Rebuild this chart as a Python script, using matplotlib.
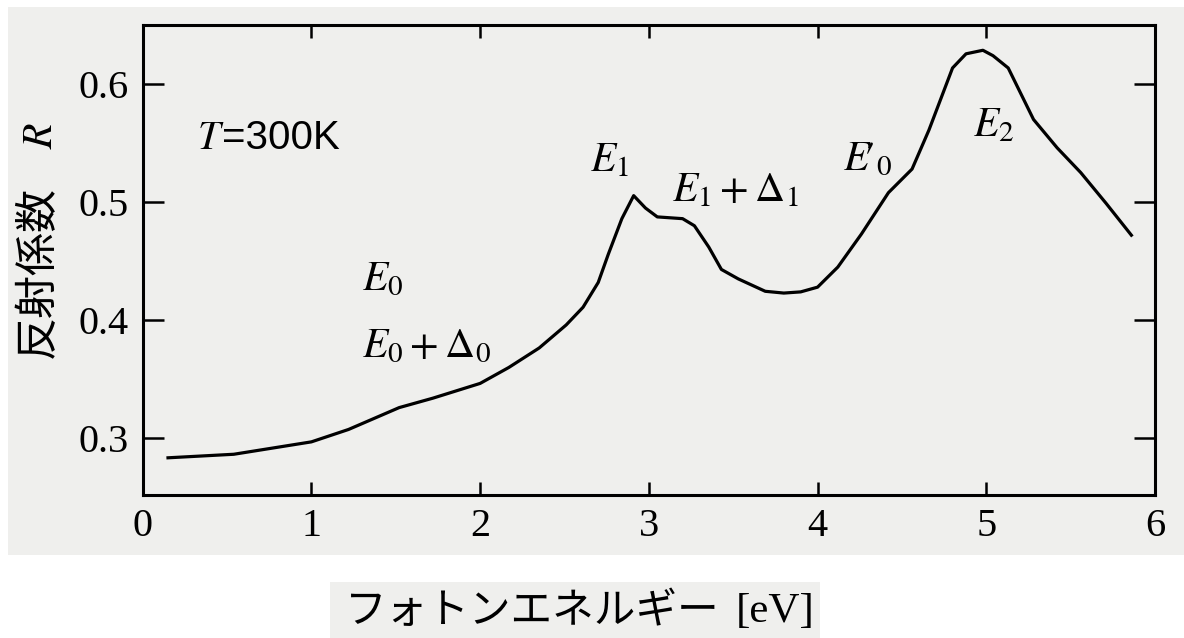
import numpy as np
import matplotlib
matplotlib.use('Agg')
import matplotlib.pyplot as plt
from matplotlib.patches import Rectangle

# -------------------- Data --------------------

energy = [0.15, 0.54, 1.0, 1.22, 1.52, 1.72, 2.0, 2.17, 2.35, 2.51, 2.61, 2.70, 2.76,
          2.84, 2.91, 2.98, 3.05, 3.20, 3.27, 3.355, 3.43, 3.53, 3.69, 3.80, 3.90,
          4.00, 4.12, 4.26, 4.42, 4.56, 4.66, 4.80, 4.88, 4.98, 5.04, 5.13, 5.28,
          5.42, 5.56, 5.71, 5.86]   # (eV)
refl = [0.2835, 0.2865, 0.297, 0.3075, 0.326, 0.334, 0.3465, 0.360, 0.3765, 0.396,
        0.411, 0.432, 0.456, 0.486, 0.5055, 0.495, 0.4875, 0.486, 0.480, 0.462,
        0.443, 0.435, 0.4245, 0.423, 0.424, 0.428, 0.445, 0.473, 0.508, 0.528,
        0.561, 0.6136, 0.6256, 0.6286, 0.624, 0.6136, 0.570, 0.546, 0.525, 0.499,
        0.472]   # reflectance R

x_ticks = [0, 1, 2, 3, 4, 5, 6]
y_ticks = [0.3, 0.4, 0.5, 0.6]
y_tick_labels = ['0.3', '0.4', '0.5', '0.6']

# peak labels: (text, x, baseline y)
peak_labels = [
    (r'$E_0$', 1.30, 0.4256),
    (r'$E_0+\Delta_0$', 1.30, 0.3683),
    (r'$E_1$', 2.65, 0.5259),
    (r'$E_1+\Delta_1$', 3.14, 0.5006),
    (r'$E\!\prime_0$', 4.15, 0.5267),
    (r'$E_2$', 4.92, 0.556),
]

# -------------------- Figure --------------------

plt.rcParams['mathtext.fontset'] = 'stix'
W, H = 1184, 638
bg = '#efefed'

fig = plt.figure(figsize=(W / 100, H / 100), dpi=100)
fig.patch.set_facecolor('white')

# scanned page background patches (figure pixels)
def px_rect(x0, y0, x1, y1):
    return Rectangle((x0 / W, 1 - y1 / H), (x1 - x0) / W, (y1 - y0) / H,
                     transform=fig.transFigure, facecolor=bg, edgecolor='none', zorder=-10)

fig.patches.append(px_rect(8, 7, 1184, 555))
fig.patches.append(px_rect(330, 582, 820, 638))

ax = fig.add_axes([142.7 / W, 1 - 495 / H, (1155 - 142.7) / W, (495 - 25) / H])
ax.set_facecolor(bg)
ax.set_zorder(2)

ax.plot(energy, refl, color='black', lw=2.3, solid_joinstyle='round')

ax.set_xlim(0, 6)
ax.set_ylim(0.252, 0.65)
ax.set_xticks(x_ticks)
ax.set_yticks(y_ticks)
ax.set_yticklabels(y_tick_labels)

for s in ax.spines.values():
    s.set_linewidth(2.2)

ax.tick_params(axis='x', direction='in', length=9.5, width=1.8, top=True, pad=9)
ax.tick_params(axis='y', direction='in', length=15, width=1.8, right=True, pad=10)
for lab in ax.get_xticklabels() + ax.get_yticklabels():
    lab.set_fontfamily('Liberation Serif')
    lab.set_fontsize(29)

# -------------------- Annotations --------------------

for txt, xv, yv in peak_labels:
    ax.text(xv, yv, txt, fontsize=30, va='baseline', ha='left')

ax.text(0.32, 0.545, r'$T$', fontsize=29, va='baseline', ha='left')
ax.text(0.47, 0.545, '=300K', fontsize=29, va='baseline', ha='left',
        family='Liberation Sans')

# -------------------- Axis labels --------------------

fig.text(38 / W, 1 - 272 / H, '反射係数', rotation=90, fontsize=31,
         family=['Noto Sans CJK JP', 'DejaVu Sans'], ha='center', va='center')
fig.text(40 / W, 1 - 135 / H, r'$R$', rotation=90, fontsize=30,
         ha='center', va='center')

fig.text(345 / W, 1 - 612 / H, 'フォトンエネルギー', fontsize=30,
         family=['Noto Sans CJK JP', 'DejaVu Sans'], ha='left', va='center')
fig.text(736 / W, 1 - 612 / H, '[eV]', fontsize=31,
         family='Liberation Serif', ha='left', va='center')

fig.savefig('out.png', dpi=100, facecolor=fig.get_facecolor())
